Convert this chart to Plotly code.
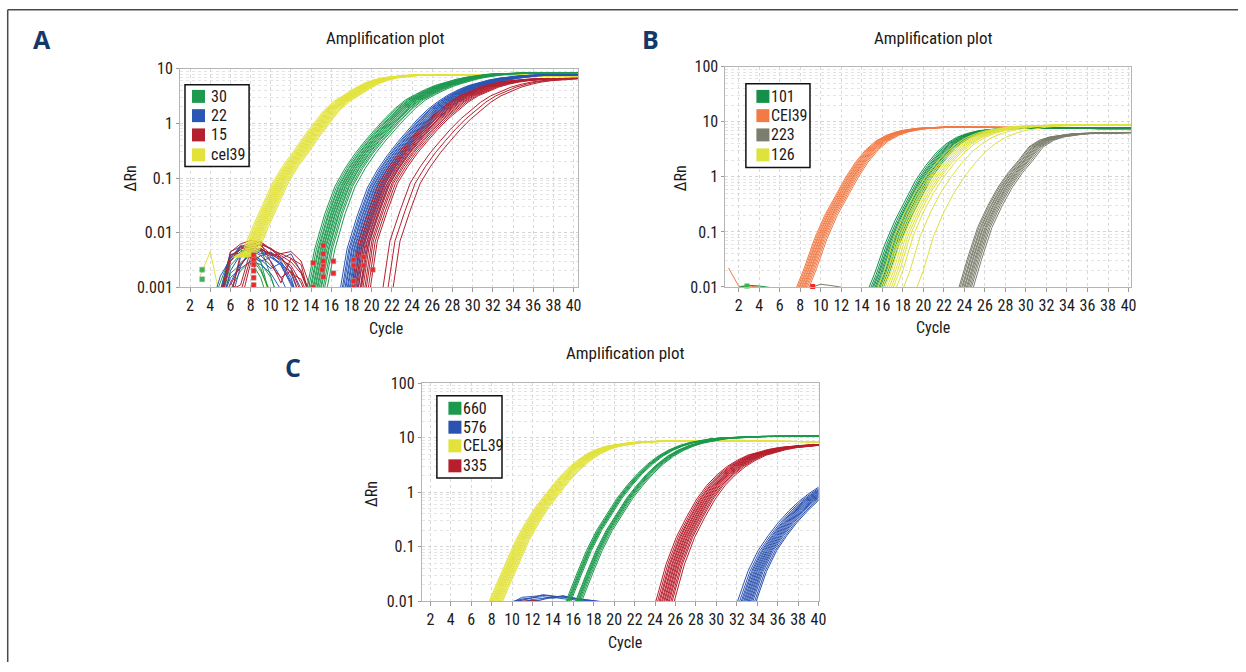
import os
import plotly.graph_objects as go

W, H = 1246, 672

# ======================= DATA =======================
X_TICKS = list(range(2, 41, 2))
A_Y_TICKS = [0.001, 0.01, 0.1, 1, 10]
A_Y_LABELS = ["0.001", "0.01", "0.1", "1", "10"]
BC_Y_TICKS = [0.01, 0.1, 1, 10, 100]
BC_Y_LABELS = ["0.01", "0.1", "1", "10", "100"]

# ---------- Panel A ----------
A_NAMES = ["30", "22", "15", "cel39"]
A_COLORS = ["#1e9a50", "#2a56b4", "#b5202f", "#e2e23a"]

A_CEL39_START = 7
A_CEL39 = [0.0035, 0.0045, 0.013, 0.034, 0.085, 0.17, 0.3, 0.56, 1.0, 1.7, 2.5, 3.3, 4.3, 5.4,
           6.3, 6.9, 7.3, 7.55, 7.7, 7.78, 7.8, 7.8, 7.8, 7.78, 7.75, 7.7, 7.65, 7.6, 7.55, 7.5,
           7.45, 7.4, 7.35, 7.3, 7.28, 7.25]
A_CEL39_SHIFT = [-0.78, -0.64, -0.53, -0.42, -0.33, -0.24, -0.15, -0.06, 0.03, 0.12, 0.22, 0.3,
                 0.4, 0.52, 0.64, 0.78]

A_30_START = 13
A_30 = [0.0002, 0.0006, 0.005, 0.022, 0.07, 0.15, 0.28, 0.48, 0.78, 1.25, 1.9, 2.7, 3.4, 4.2,
        5.0, 5.7, 6.4, 7.0, 7.5, 7.9, 8.1, 8.25, 8.35, 8.4, 8.45, 8.5, 8.5, 8.5, 8.5, 8.5]
A_30_SHIFT = [-0.65, -0.48, -0.32, -0.23, -0.08, 0.0, 0.13, 0.2, 0.34, 0.42, 0.56, 0.7, 0.78,
              0.95, 1.1, 1.35]

A_22_START = 17
A_22 = [0.0004, 0.005, 0.02, 0.065, 0.14, 0.26, 0.45, 0.75, 1.2, 1.8, 2.5, 3.3, 4.1, 4.9, 5.6,
        6.2, 6.7, 7.1, 7.4, 7.6, 7.7, 7.75, 7.8, 7.8, 7.8, 7.8]
A_22_SHIFT = [-0.45, -0.27, -0.15, 0.0, 0.08, 0.22, 0.3, 0.43, 0.52, 0.65, 0.75, 0.86, 0.98,
              1.1, 1.3, 1.55]

A_15_START = 18
A_15 = [0.0004, 0.007, 0.025, 0.08, 0.16, 0.29, 0.48, 0.78, 1.2, 1.75, 2.45, 3.2, 3.9, 4.6,
        5.2, 5.7, 6.05, 6.3, 6.5, 6.6, 6.65, 6.7, 6.7, 6.7, 6.7]
A_15_SHIFT = [-0.3, -0.1, 0.08, 0.25, 0.38, 0.55, 0.68, 0.82, 1.0, 1.15, 1.35, 1.55, 2.8, 3.3,
              3.8]

# baseline noise (start cycle, values at consecutive cycles)
A_NOISE_30_START = [5, 5, 5, 5, 6, 4]
A_NOISE_30 = [
    [0.0005, 0.0025, 0.004, 0.0035, 0.002, 0.0008],
    [0.0008, 0.003, 0.0045, 0.005, 0.003, 0.0006],
    [0.0004, 0.0018, 0.0026, 0.004, 0.0022, 0.0007],
    [0.0006, 0.0035, 0.0055, 0.0042, 0.0028, 0.0015, 0.0005],
    [0.0009, 0.002, 0.003, 0.0015, 0.0004],
    [0.0004, 0.0012, 0.0038, 0.0048, 0.0039, 0.0052, 0.0016, 0.0004],
]
A_NOISE_22_START = [5, 5, 5, 6, 5, 6, 5, 6, 4]
A_NOISE_22 = [
    [0.0006, 0.003, 0.005, 0.006, 0.0045, 0.003, 0.0015, 0.0006],
    [0.0004, 0.002, 0.004, 0.0035, 0.005, 0.004, 0.0025, 0.0012, 0.0005],
    [0.0008, 0.0045, 0.0055, 0.0048, 0.0038, 0.0042, 0.003, 0.0015, 0.0004],
    [0.0012, 0.0028, 0.004, 0.0032, 0.0022, 0.0028, 0.0018, 0.0006],
    [0.0005, 0.0015, 0.0022, 0.003, 0.0026, 0.0018, 0.0009, 0.0004],
    [0.0007, 0.0035, 0.0048, 0.0062, 0.005, 0.0035, 0.0022, 0.001, 0.0004],
    [0.0009, 0.004, 0.0042, 0.0036, 0.003, 0.0035, 0.0026, 0.0011, 0.0005],
    [0.0005, 0.0024, 0.0052, 0.0041, 0.0044, 0.0033, 0.0041, 0.0019, 0.0007],
    [0.0004, 0.0016, 0.0033, 0.0058, 0.0052, 0.0047, 0.0036, 0.0028, 0.0013, 0.0005],
]
A_NOISE_15_START = [5, 6, 5, 6, 7, 5, 6, 5]
A_NOISE_15 = [
    [0.0005, 0.003, 0.0055, 0.0065, 0.0058, 0.004, 0.0032, 0.0025, 0.0012, 0.0004],
    [0.0006, 0.0042, 0.006, 0.0068, 0.005, 0.0035, 0.0022, 0.0008],
    [0.0004, 0.0012, 0.0008, 0.0035, 0.0048, 0.0042, 0.0035, 0.0018, 0.0014, 0.0005],
    [0.0011, 0.0025, 0.0045, 0.0052, 0.0038, 0.0042, 0.0045, 0.003, 0.0009],
    [0.0005, 0.0028, 0.0038, 0.0025, 0.0015, 0.002, 0.0006],
    [0.0007, 0.0038, 0.005, 0.0055, 0.006, 0.0052, 0.0038, 0.0029, 0.0018, 0.0006],
    [0.0009, 0.0011, 0.0047, 0.0063, 0.0029, 0.0012, 0.0034, 0.0026, 0.0005],
    [0.0006, 0.0044, 0.0062, 0.0072, 0.0066, 0.0049, 0.0041, 0.0034, 0.002, 0.0006],
]
A_NOISE_CEL39_START = [3, 8]
A_NOISE_CEL39 = [
    [0.0016, 0.0045, 0.0006],
    [0.0045, 0.0022, 0.0006],
]
A_MARK_CYCLE = [14.2, 14.2, 15.2, 15.2, 15.2, 15.2, 15.1, 15.2, 16.2, 16.2, 18.2, 18.2, 18.2, 18.2,
                19.2, 19.2, 20.1, 8.3, 8.3, 8.3, 8.3, 8.3, 8.3]
A_MARK_VALUE = [0.0028, 0.001, 0.0058, 0.0041, 0.003, 0.0024, 0.0021, 0.00155, 0.003, 0.0018,
                0.0032, 0.0025, 0.0013, 0.001, 0.0036, 0.0025, 0.0021, 0.0039, 0.0032, 0.0026,
                0.002, 0.0015, 0.0011]
A_GMARK_CYCLE = [3.2, 3.2]
A_GMARK_VALUE = [0.0021, 0.0014]

# ---------- Panel B ----------
B_NAMES = ["101", "CEl39", "223", "126"]
B_COLORS = ["#15904a", "#f27a45", "#7b7e6c", "#dde23c"]

B_CEL39_START = 7
B_CEL39 = [0.004, 0.0075, 0.022, 0.075, 0.2, 0.45, 0.95, 1.85, 3.1, 4.5, 5.7, 6.6, 7.2, 7.6, 7.85,
           7.95, 8.0, 8.0, 8.0, 8.0, 8.0, 8.0, 8.0, 8.0, 7.95, 7.9, 7.85, 7.8, 7.7, 7.6, 7.5, 7.4,
           7.3, 7.2, 7.15, 7.1]
B_CEL39_SHIFT = [-0.62, -0.5, -0.38, -0.3, -0.18, -0.1, 0.02, 0.1, 0.2, 0.32, 0.45, 0.6]

B_101_START = 14
B_101 = [0.003, 0.006, 0.017, 0.058, 0.16, 0.37, 0.85, 1.6, 2.7, 4.0, 5.2, 6.1, 6.8, 7.2, 7.5,
         7.65, 7.75, 7.8, 7.8, 7.8, 7.8, 7.8, 7.8, 7.8, 7.8, 7.8, 7.8, 7.8, 7.8]
B_101_SHIFT = [-0.78, -0.6, -0.45, -0.34, -0.2, -0.08, 0.05, 0.18, 0.3, 0.45, 0.62]

B_126_START = 15
B_126 = [0.003, 0.0065, 0.02, 0.085, 0.23, 0.52, 1.0, 1.75, 2.8, 4.0, 5.2, 6.2, 7.0, 7.6, 8.0,
         8.3, 8.5, 8.6, 8.7, 8.8, 8.8, 8.8, 8.8, 8.8, 8.8, 8.8, 8.8, 8.8]
B_126_SHIFT = [-0.8, -0.5, -0.3, -0.1, 0.1, 0.3, 0.5, 0.7, 1.0, 1.7, 3.0]

B_223_START = 23
B_223 = [0.003, 0.0075, 0.032, 0.12, 0.3, 0.65, 1.2, 2.0, 3.5, 4.6, 5.3, 5.7, 6.0, 6.15, 6.25,
         6.3, 6.35, 6.4, 6.4, 6.4]
B_223_SHIFT = [-0.72, -0.6, -0.45, -0.36, -0.22, -0.14, 0.0, 0.1, 0.22, 0.36, 0.5, 0.68]

B_NOISE_START = [1, 9, 2]
B_NOISE = [[0.022, 0.0103, 0.0104, 0.0099],
           [0.0098, 0.0112, 0.0106, 0.0099],
           [0.0099, 0.0107, 0.0104, 0.0098]]
B_NOISE_COLOR = [1, 2, 0]
B_MARK_CYCLE = [2.8, 9.2]
B_MARK_VALUE = [0.0104, 0.0102]

# ---------- Panel C ----------
C_NAMES = ["660", "576", "CEL39", "335"]
C_COLORS = ["#1b9a4c", "#2b52b0", "#e2e23a", "#b81f2d"]

C_CEL39_START = 7
C_CEL39 = [0.003, 0.0065, 0.018, 0.05, 0.13, 0.28, 0.55, 0.95, 1.65, 2.6, 3.8, 5.1, 6.2, 7.1, 7.7,
           8.1, 8.4, 8.6, 8.7, 8.8, 8.8, 8.8, 8.8, 8.8, 8.75, 8.75, 8.7, 8.7, 8.65, 8.6, 8.6, 8.55,
           8.5, 8.5, 8.5, 8.5]
C_CEL39_SHIFT = [-0.66, -0.55, -0.44, -0.37, -0.27, -0.2, -0.1, -0.03, 0.06, 0.13, 0.24, 0.32,
                 0.43, 0.54, 0.66]

C_660_START = 15
C_660 = [0.004, 0.01, 0.03, 0.085, 0.2, 0.4, 0.78, 1.35, 2.2, 3.3, 4.6, 5.9, 7.1, 8.1, 8.9, 9.5,
         9.9, 10.2, 10.4, 10.5, 10.6, 10.7, 10.8, 10.8, 10.8, 10.8, 10.8, 10.8]
C_660_SHIFT = [-0.72, -0.6, -0.52, -0.43, -0.35, -0.24, 0.22, 0.3, 0.4, 0.47, 0.56, 0.68, 0.82]

C_335_START = 24
C_335 = [0.004, 0.01, 0.048, 0.15, 0.35, 0.75, 1.35, 2.1, 3.0, 3.9, 4.8, 5.5, 6.1, 6.6, 6.95,
         7.2, 7.4, 7.55, 7.65]
C_335_SHIFT = [-0.92, -0.75, -0.6, -0.5, -0.36, -0.27, -0.14, -0.05, 0.08, 0.17, 0.3, 0.4,
               0.55, 0.68, 0.88]

C_576_START = 32
C_576 = [0.004, 0.01, 0.035, 0.085, 0.16, 0.28, 0.45, 0.68, 0.95, 1.3, 1.7]
C_576_SHIFT = [-0.92, -0.72, -0.56, -0.45, -0.32, -0.22, -0.1, 0.0, 0.12, 0.22, 0.34, 0.45,
               0.58, 0.75, 0.9]

C_NOISE_576_START = [10, 10, 11, 10, 12]
C_NOISE_576 = [
    [0.0095, 0.0118, 0.0122, 0.0128, 0.0122, 0.012, 0.0112, 0.0105, 0.0098],
    [0.0098, 0.011, 0.0115, 0.0132, 0.0125, 0.0118, 0.0116, 0.0102, 0.0095],
    [0.0095, 0.0108, 0.0112, 0.012, 0.0126, 0.0114, 0.0108, 0.0104, 0.0097],
    [0.0097, 0.0104, 0.0116, 0.0121, 0.0113, 0.0124, 0.0113, 0.0106, 0.0101, 0.0096],
    [0.0098, 0.0109, 0.0118, 0.0111, 0.0107, 0.0099],
]
C_NOISE_335_START = [10, 11]
C_NOISE_335 = [[0.0097, 0.0106, 0.0103, 0.0097], [0.0098, 0.0104, 0.0099]]


# ======================= FONT CHOICE =======================
def _installed_fonts():
    found = []
    for root in ("/usr/share/fonts", "/usr/local/share/fonts",
                 os.path.expanduser("~/.fonts"), os.path.expanduser("~/.local/share/fonts")):
        if os.path.isdir(root):
            for _, _, files in os.walk(root):
                for f in files:
                    found.append(f.lower().replace("-", "").replace("_", "").replace(" ", ""))
    return " ".join(found)


_FOUND = _installed_fonts()
_CANDIDATES = [("Liberation Sans Narrow", "liberationsansnarrow", 1.0),
               ("Roboto Condensed", "robotocondensed", 1.0),
               ("DejaVu Sans Condensed", "dejavusanscondensed", 0.8),
               ("Liberation Sans", "liberationsans", 0.82)]
FONT, FS = "DejaVu Sans", 0.72
for _name, _key, _scale in _CANDIDATES:
    if _key in _FOUND:
        FONT, FS = _name, _scale
        break


def fsz(s):
    return round(s * FS, 1)


# ======================= BUILD =======================
def band(start, curve, shifts):
    xs, ys = [], []
    for s in shifts:
        for i, v in enumerate(curve):
            xs.append(start + i + s)
            ys.append(v)
        xs.append(None)
        ys.append(None)
    return xs, ys


def noise(starts, curves):
    xs, ys = [], []
    for st, cv in zip(starts, curves):
        for i, v in enumerate(cv):
            xs.append(st + i)
            ys.append(v)
        xs.append(None)
        ys.append(None)
    return xs, ys


fig = go.Figure()


def add_line(xs, ys, color, ax, width=1.0):
    fig.add_trace(go.Scatter(x=xs, y=ys, mode="lines", line=dict(color=color, width=width),
                             xaxis="x" + ax, yaxis="y" + ax, showlegend=False,
                             hoverinfo="skip", connectgaps=False))


# Panel A
add_line(*noise(A_NOISE_CEL39_START, A_NOISE_CEL39), A_COLORS[3], "")
add_line(*noise(A_NOISE_30_START, A_NOISE_30), A_COLORS[0], "")
add_line(*noise(A_NOISE_22_START, A_NOISE_22), A_COLORS[1], "")
add_line(*noise(A_NOISE_15_START, A_NOISE_15), A_COLORS[2], "")
add_line(*band(A_CEL39_START, A_CEL39, A_CEL39_SHIFT), A_COLORS[3], "")
add_line(*band(A_30_START, A_30, A_30_SHIFT), A_COLORS[0], "")
add_line(*band(A_22_START, A_22, A_22_SHIFT), A_COLORS[1], "")
add_line(*band(A_15_START, A_15, A_15_SHIFT), A_COLORS[2], "")
fig.add_trace(go.Scatter(x=A_MARK_CYCLE, y=A_MARK_VALUE, mode="markers", xaxis="x", yaxis="y",
                         marker=dict(symbol="square", size=5, color="#ec2a2a",
                                     line=dict(color="#aaaaaa", width=0.5)),
                         showlegend=False, hoverinfo="skip"))
fig.add_trace(go.Scatter(x=A_GMARK_CYCLE, y=A_GMARK_VALUE, mode="markers", xaxis="x", yaxis="y",
                         marker=dict(symbol="square", size=5, color="#3cb44a",
                                     line=dict(color="#aaaaaa", width=0.5)),
                         showlegend=False, hoverinfo="skip"))

# Panel B
for st, cv, ci in zip(B_NOISE_START, B_NOISE, B_NOISE_COLOR):
    add_line(*noise([st], [cv]), B_COLORS[ci], "2")
add_line(*band(B_CEL39_START, B_CEL39, B_CEL39_SHIFT), B_COLORS[1], "2")
add_line(*band(B_223_START, B_223, B_223_SHIFT), B_COLORS[2], "2")
add_line(*band(B_101_START, B_101, B_101_SHIFT), B_COLORS[0], "2")
add_line(*band(B_126_START, B_126, B_126_SHIFT), B_COLORS[3], "2")
fig.add_trace(go.Scatter(x=B_MARK_CYCLE, y=B_MARK_VALUE, mode="markers", xaxis="x2", yaxis="y2",
                         marker=dict(symbol="square", size=5, color=["#3cb44a", "#ec2a2a"]),
                         showlegend=False, hoverinfo="skip", cliponaxis=False))

# Panel C
add_line(*noise(C_NOISE_335_START, C_NOISE_335), C_COLORS[3], "3")
add_line(*noise(C_NOISE_576_START, C_NOISE_576), C_COLORS[1], "3")
add_line(*band(C_CEL39_START, C_CEL39, C_CEL39_SHIFT), C_COLORS[2], "3")
add_line(*band(C_660_START, C_660, C_660_SHIFT), C_COLORS[0], "3")
add_line(*band(C_335_START, C_335, C_335_SHIFT), C_COLORS[3], "3")
add_line(*band(C_576_START, C_576, C_576_SHIFT), C_COLORS[1], "3")


# ======================= LAYOUT =======================
# Map target picture pixels to figure pixels (compensates the capture scaling seen
# in the returned picture: ~0.992 horizontally, ~0.974 vertically with an 8px top inset).
SX, OX = 0.992, 0.3
SY, OY = 0.974, 8.1


def PX(x):
    return ((x - OX) / SX) / W


def PY(y):
    return 1 - ((y - OY) / SY) / H


tickfont = dict(family=FONT, size=fsz(16), color="#1a1a1a")


def xcfg(x0, x1, rng, anchor):
    return dict(domain=[PX(x0), PX(x1)], range=rng, anchor=anchor, tickvals=X_TICKS,
                ticktext=[str(t) for t in X_TICKS], tickfont=tickfont, tickangle=0,
                showgrid=True, gridcolor="#d9d9d9", griddash="dot", gridwidth=1,
                showline=True, mirror=True, linecolor="#b5b5b5", linewidth=1,
                ticks="outside", ticklen=4, tickcolor="#9a9a9a", zeroline=False,
                fixedrange=True)


def ycfg(y0, y1, rng, anchor, tv, tt):
    return dict(domain=[PY(y1), PY(y0)], type="log", range=rng, anchor=anchor, tickvals=tv,
                ticktext=tt, tickfont=tickfont, showgrid=True, gridcolor="#d4d4d4",
                griddash="dot", gridwidth=1, showline=True, mirror=True, linecolor="#b5b5b5",
                linewidth=1, ticks="outside", ticklen=3, tickcolor="#9a9a9a", zeroline=False,
                minor=dict(dtick="D1", showgrid=True, gridcolor="#e4e4e4", griddash="dot",
                           ticks=""),
                fixedrange=True)


# panel pixel boxes (left, right, top, bottom) in target picture pixels
A_BOX = (180, 577, 68, 287)
B_BOX = (724.6, 1129.8, 66, 286.7)
C_BOX = (421.4, 817.5, 383.3, 601.7)

layout = dict(
    width=W, height=H, margin=dict(l=0, r=0, t=0, b=0), autosize=False,
    paper_bgcolor="white", plot_bgcolor="white", showlegend=False,
    xaxis=xcfg(A_BOX[0], A_BOX[1], [1.0, 40.4], "y"),
    yaxis=ycfg(A_BOX[2], A_BOX[3], [-3, 1], "x", A_Y_TICKS, A_Y_LABELS),
    xaxis2=xcfg(B_BOX[0], B_BOX[1], [0.7, 40.27], "y2"),
    yaxis2=ycfg(B_BOX[2], B_BOX[3], [-2, 2], "x2", BC_Y_TICKS, BC_Y_LABELS),
    xaxis3=xcfg(C_BOX[0], C_BOX[1], [1.16, 40.0], "y3"),
    yaxis3=ycfg(C_BOX[2], C_BOX[3], [-2, 2], "x3", BC_Y_TICKS, BC_Y_LABELS),
)

shapes = []
annotations = []

# outer frame (top and left)
shapes.append(dict(type="line", xref="paper", yref="paper", x0=PX(8), x1=1, y0=0.999,
                   y1=0.999, line=dict(color="#4a4a4a", width=1.5)))
shapes.append(dict(type="line", xref="paper", yref="paper", x0=PX(8), x1=PX(8), y0=0.999,
                   y1=0, line=dict(color="#4a4a4a", width=1.5)))


def text(x, y, s, size, anchor="center", angle=0, color="#1a1a1a", family=None):
    annotations.append(dict(x=PX(x), y=PY(y), xref="paper", yref="paper", text=s,
                            showarrow=False, xanchor=anchor, yanchor="middle", textangle=angle,
                            font=dict(family=family or FONT, size=size, color=color)))


def legend(x0, y0, x1, y1, items_y, sq_x0, sq_x1, tx, names, colors):
    shapes.append(dict(type="rect", xref="paper", yref="paper", x0=PX(x0), x1=PX(x1),
                       y0=PY(y1), y1=PY(y0), line=dict(color="#111111", width=1.5),
                       fillcolor="white", layer="above"))
    half = (sq_x1 - sq_x0) / 2
    for yy, nm, col in zip(items_y, names, colors):
        shapes.append(dict(type="rect", xref="paper", yref="paper", x0=PX(sq_x0), x1=PX(sq_x1),
                           y0=PY(yy + half), y1=PY(yy - half), line=dict(width=0),
                           fillcolor=col, layer="above"))
        text(tx, yy, nm, fsz(16), anchor="left")


legend(185, 84, 249, 166, [95.7, 115, 134.3, 154.3], 192, 205, 208.5, A_NAMES, A_COLORS)
legend(745, 83, 809, 167, [95.7, 115, 134.3, 154.3], 755.5, 768.5, 768, B_NAMES, B_COLORS)
legend(436.5, 395.7, 501.5, 478.3, [408.3, 427.3, 446, 466], 448, 461, 460.5, C_NAMES, C_COLORS)

# titles, axis titles, panel letters
for (tx, ty) in [(385.5, 37), (932.6, 37), (624.6, 353.3)]:
    text(tx, ty, "Amplification plot", fsz(17))
for (tx, ty) in [(385.5, 328), (932, 327), (624.6, 643.5)]:
    text(tx, ty, "Cycle", fsz(16))
for (tx, ty) in [(131, 178), (680, 178), (371, 494)]:
    text(tx, ty, "ΔRn", fsz(16), angle=-90)
for (s, tx, ty) in [("A", 42, 38), ("B", 650, 38), ("C", 292.5, 366.5)]:
    text(tx, ty, "<b>" + s + "</b>", 25, color="#15386a",
         family="Open Sans, Liberation Sans, sans-serif")

layout["shapes"] = shapes
layout["annotations"] = annotations
fig.update_layout(**layout)

fig.write_html(
    "out.html",
    config={"displayModeBar": False, "responsive": False},
    post_script=(
        "document.documentElement.style.margin='0';document.body.style.margin='0';"
        "document.body.style.padding='0';document.documentElement.style.overflow='hidden';"
        "document.body.style.overflow='hidden';"
        "var _g=document.querySelector('.plotly-graph-div');"
        "if(_g){_g.style.position='fixed';_g.style.left='0px';_g.style.top='0px';}"
    ),
)
